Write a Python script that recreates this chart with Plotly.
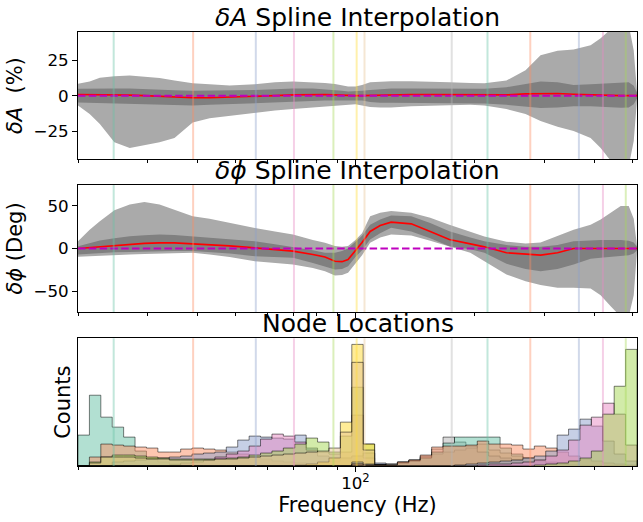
import numpy as np
import plotly.graph_objects as go
from plotly.subplots import make_subplots

# frequency grid (Hz) the bands were read at
freq = [20, 21.4, 22.7, 24.7, 27.0, 29.4, 32.1, 35.0, 38.9, 42.9, 48.2, 55.8, 62.7, 69.6,
        78.1, 83.8, 88.8, 92.5, 95.8, 100, 103.9, 108.9, 115.4, 123.0, 138.2, 154.3,
        172.4, 194.7, 211.3, 240.1, 268.2, 292.6, 322.9, 354.4, 391.2, 414.7, 439.5,
        465.9, 488.0, 502.4, 512]

# dA (%) : 90% band, 50% band, median
amp_hi90 = [8.4, 10, 12.6, 13.8, 14.3, 13.5, 12.5, 10.7, 8.8, 8, 7.1, 8, 9.5, 10, 9.5, 9, 8.3,
            7.5, 6.5, 6.4, 7.5, 9.5, 10, 10.2, 10.2, 10, 9.5, 9, 8.8, 10.7, 18, 28.6, 31.7,
            32.6, 35.7, 40.5, 47, 50, 50, 32, 3]
amp_lo90 = [-7, -13, -20, -33, -37, -35, -33, -30, -19, -16, -14.3, -12, -10.5, -9.5, -8.5, -8,
            -7.5, -7, -6.5, -6, -7, -8, -8.3, -8.3, -7.5, -7, -6.8, -6.5, -7, -9.5, -13, -17.9,
            -22, -25, -30, -37, -46, -50, -50, -32, -3]
amp_hi50 = [4.8, 5, 5, 5, 5, 4.5, 4, 3.8, 3.5, 3.5, 3.5, 4, 4.5, 5, 5, 4.5, 4, 3.5, 3, 3, 3.5,
            4, 4.5, 5, 5, 5, 5, 4.8, 4.8, 6, 8, 10, 9.5, 7.5, 8, 8.5, 9, 9.5, 9.5, 7, 2]
amp_lo50 = [-4.8, -5, -5, -5.5, -6, -6, -6, -6.5, -7, -6.5, -6, -5, -4.5, -4, -4, -3.5, -3.5,
            -3.5, -3, -3, -3.5, -4.5, -5, -5, -5, -5, -5, -5, -5.5, -6.5, -8, -8.8, -8.3, -7.5,
            -7.5, -8, -8.5, -8.5, -8.3, -6, -2]
amp_med = [0.8, 0.8, 0.8, 0.6, 0.4, 0, -0.5, -1, -1.5, -1.5, -1.2, -0.5, 0, 0.5, 1, 0.8, 0.5,
           0.2, 0, 0, 0, 0.2, 0.4, 0.5, 0.8, 0.8, 0.6, 0.5, 0.4, 0.5, 1.2, 1.5, 1.5, 1, 0.5,
           0.2, 0, 0, 0, 0, 0]

# dphi (deg)
ph_hi90 = [8.6, 22, 32, 45, 51.8, 54.5, 51.8, 46, 38, 35, 30, 24, 20, 16.5, 10, 6.7, 3, 2, 3,
           10, 18, 38, 42, 44, 42, 36, 28, 20, 14, 8, 5.9, 7, 14.5, 22, 28, 34, 42, 49.8, 50,
           35, 3]
ph_lo90 = [-9.8, -9, -8.2, -7.5, -7, -6.5, -6, -5.5, -5, -7, -10, -15, -17, -18.8, -23, -26.7,
           -31.8, -31, -28.6, -18, -8, 6.7, 13, 16.5, 15.3, 9, 2, -5, -15, -30.6, -38.4, -43,
           -46, -46, -47, -55, -68, -80, -80, -55, -3]
ph_hi50 = [2.7, 6, 9.4, 12, 14.5, 15.5, 16.5, 16, 14.5, 13, 11, 8.6, 5, 2, -2, -5, -5, -3, 0, 8,
           15, 28, 34, 38.8, 38, 30, 20.4, 13, 8.6, 4, 2, 2, 4, 8.6, 10, 10, 10, 10, 9, 7, 2]
ph_lo50 = [-7, -6, -5, -4.5, -4, -3.5, -3, -3, -3, -4, -6, -9, -10, -11, -17, -21, -24.7, -24,
           -21, -10, -2, 10.6, 18, 24.3, 20, 12, 2.7, -1, -5, -18, -24, -26.7, -24, -18.8, -12,
           -11, -10, -9, -8, -6, -2]
ph_med = [0, 1, 2, 3.9, 5, 6, 6.7, 6.7, 5.5, 4.5, 3, 0.8, -1, -3, -7, -10, -15, -15.5, -13, -3,
          7, 20, 27, 31, 29, 20, 10.6, 5.5, 2, -5, -7, -7.8, -5, 0, 0, 0, 0, 0, 0, 0, 0]

# spline node locations and colours
node_freq = [24.6, 39.0, 56.1, 70.0, 88.0, 100.7, 105.4, 174.8, 215.1, 275.7, 365.5, 420.2, 479.7]
node_color = ["#66c2a5", "#fc8d62", "#8da0cb", "#e78ac3", "#a6d854", "#ffd92f", "#e5c494",
              "#b3b3b3", "#66c2a5", "#fc8d62", "#8da0cb", "#e78ac3", "#a6d854"]

# histogram counts of node locations (49 log bins, 20-512 Hz); first filled bin + counts
n_bins = 49
hist_start = [0, 1, 3, 8, 1, 19, 1, 24, 24, 24, 33, 35, 40]
hist_counts = [
    [31, 71, 49, 39, 29, 15, 8, 4, 2, 1],
    [9, 22, 21, 20, 19, 18, 14, 14, 17, 18, 17, 16, 14, 12, 9, 7, 5, 4, 3, 2, 3, 5, 8, 10, 13, 2],
    [4, 5, 6, 7, 8, 9, 10, 12, 13, 14, 19, 26, 30, 29, 28, 27, 31, 18, 10, 8, 8, 10, 13, 3],
    [1, 3, 4, 6, 9, 12, 15, 20, 27, 32, 30, 24, 16, 14, 12, 14, 51, 8, 1],
    [4, 9, 11, 11, 10, 9, 8, 7, 7, 7, 7, 7, 8, 9, 11, 13, 15, 18, 22, 28, 24, 14, 30, 79, 22, 1],
    [1, 2, 4, 8, 44, 122, 22, 1],
    [3, 9, 9, 9, 8, 7, 7, 6, 6, 6, 6, 7, 7, 8, 9, 10, 11, 12, 13, 14, 15, 18, 34,
     104, 16, 1, 2, 4, 6, 9, 12, 14, 16, 18, 22, 16, 13, 10, 8, 6, 4, 2],
    [4, 2, 1, 2, 4, 6, 10, 17, 29, 24, 20, 14, 10, 8, 6, 4, 3, 2, 1],
    [2, 1, 1, 1, 3, 5, 8, 14, 23, 29, 29, 29, 29, 18, 12, 8, 5, 3, 2, 1],
    [2, 1, 1, 1, 4, 6, 11, 19, 20, 20, 21, 25, 22, 22, 21, 17, 20, 18, 14, 10, 7, 5, 3, 2, 1],
    [1, 2, 3, 4, 5, 6, 8, 10, 15, 31, 37, 47, 40, 25, 12, 5],
    [1, 2, 2, 3, 4, 6, 10, 16, 26, 41, 49, 63, 52, 21],
    [1, 2, 3, 5, 8, 15, 52, 80, 117],
]

bin_edges = np.logspace(np.log10(20), np.log10(512), n_bins + 1)

FONT = "DejaVu Sans"
fig = make_subplots(rows=3, cols=1, shared_xaxes=True)


def rgba(hexcol, a):
    h = hexcol.lstrip("#")
    return "rgba(%d,%d,%d,%s)" % (int(h[0:2], 16), int(h[2:4], 16), int(h[4:6], 16), a)


def add_band(lo, hi, color, row):
    fig.add_trace(go.Scatter(x=freq, y=lo, mode="lines", line=dict(width=0),
                             showlegend=False, hoverinfo="skip"), row=row, col=1)
    fig.add_trace(go.Scatter(x=freq, y=hi, mode="lines", line=dict(width=0), fill="tonexty",
                             fillcolor=color, showlegend=False, hoverinfo="skip"), row=row, col=1)


def add_nodes(row, ylo, yhi):
    for f, c in zip(node_freq, node_color):
        fig.add_trace(go.Scatter(x=[f, f], y=[ylo, yhi], mode="lines",
                                 line=dict(color=rgba(c, 0.4), width=2),
                                 showlegend=False, hoverinfo="skip"), row=row, col=1)


# top two panels
for row, (hi90, lo90, hi50, lo50, med, lim) in enumerate(
        [(amp_hi90, amp_lo90, amp_hi50, amp_lo50, amp_med, 45),
         (ph_hi90, ph_lo90, ph_hi50, ph_lo50, ph_med, 75)], start=1):
    add_band(lo90, hi90, "#aaaaaa", row)
    add_band(lo50, hi50, "#808080", row)
    fig.add_trace(go.Scatter(x=freq, y=med, mode="lines", line=dict(color="red", width=1.7),
                             showlegend=False), row=row, col=1)
    fig.add_trace(go.Scatter(x=[20, 512], y=[0, 0], mode="lines",
                             line=dict(color="#bf00bf", width=2, dash="7.5px,3.3px"),
                             showlegend=False), row=row, col=1)
    add_nodes(row, -lim * 2, lim * 2)

# node location histograms (step-filled)
for start, counts, c in zip(hist_start, hist_counts, node_color):
    full = [0] * n_bins
    full[start:start + len(counts)] = counts
    xs = [bin_edges[0]] + list(bin_edges) + [bin_edges[-1]]
    ys = [0] + full + [full[-1], 0]
    fig.add_trace(go.Scatter(x=xs, y=ys, mode="lines", line_shape="hv",
                             line=dict(color="rgba(0,0,0,0.5)", width=1),
                             fill="tozeroy", fillcolor=rgba(c, 0.5),
                             showlegend=False, hoverinfo="skip"), row=3, col=1)
add_nodes(3, 0, 200)

hmax = max(max(c) for c in hist_counts)

axis_common = dict(showline=True, linecolor="black", linewidth=1, mirror=True,
                   showgrid=False, zeroline=False, ticks="outside", ticklen=5, tickwidth=1,
                   tickcolor="black", automargin=False,
                   tickfont=dict(family=FONT, size=16.7, color="black"))

minor_vals = [20, 30, 40, 50, 60, 70, 80, 90, 200, 300, 400, 500]
fig.update_xaxes(type="log", range=[np.log10(20), np.log10(512)], tickmode="array",
                 tickvals=[100], ticktext=["10<sup>2</sup>"],
                 minor=dict(tickmode="array", tickvals=minor_vals, ticks="outside", ticklen=3,
                            tickwidth=1, tickcolor="black"),
                 **axis_common)
fig.update_xaxes(showticklabels=False, row=1, col=1)
fig.update_xaxes(showticklabels=False, row=2, col=1)
fig.update_xaxes(ticklabelstandoff=-3,
                 title=dict(text="Frequency (Hz)", font=dict(family=FONT, size=21, color="black"),
                            standoff=2), row=3, col=1)

fig.update_yaxes(**axis_common)
fig.update_yaxes(range=[-45, 45], tickvals=[-25, 0, 25], domain=[0.7067, 1.0],
                 title=dict(text="<i>δA</i>\u00a0\u00a0(%)", standoff=5,
                            font=dict(family=FONT, size=21, color="black")), row=1, col=1)
fig.update_yaxes(range=[-75, 75], tickvals=[-50, 0, 50], domain=[0.3541, 0.6482],
                 title=dict(text="<i>δϕ</i> (Deg)", standoff=5,
                            font=dict(family=FONT, size=21, color="black")), row=2, col=1)
fig.update_yaxes(range=[0, hmax * 1.05], domain=[0, 0.2942], ticks="", showticklabels=False,
                 title=dict(text="Counts", standoff=0,
                            font=dict(family=FONT, size=21, color="black")), row=3, col=1)

titles = [("<i>δA</i> Spline Interpolation", 1.0),
          ("<i>δϕ</i> Spline Interpolation", 0.6482),
          ("Node Locations", 0.2942)]
for text, ytop in titles:
    fig.add_annotation(text=text, x=0.5, y=ytop, xref="paper", yref="paper",
                       xanchor="center", yanchor="bottom", yshift=-2, showarrow=False,
                       font=dict(family=FONT, size=25, color="black"))

fig.update_layout(width=643, height=522, margin=dict(l=78, r=6, t=32, b=56),
                  paper_bgcolor="white", plot_bgcolor="white", showlegend=False,
                  font=dict(family=FONT, color="black"))

fig.write_html("out.html", config={"displayModeBar": False},
               post_script="document.body.style.margin='0';document.body.style.overflow='hidden';")
